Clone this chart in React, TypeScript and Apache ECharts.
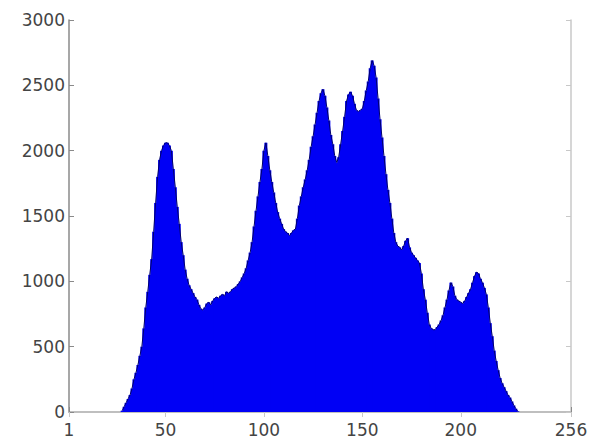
import React, { useEffect, useRef } from "react";
import * as echarts from "echarts";

// Histogram: intensity bins (1..256) and their counts
const firstBin = 28;
const counts: number[] = [
  10, 40, 70, 100, 130, 180, 250, 300, 360, 430, // 28-37
  500, 640, 800, 920, 1050, 1170, 1380, 1600, 1800, 1930, // 38-47
  2000, 2040, 2060, 2060, 2040, 2000, 1860, 1720, 1570, 1440, // 48-57
  1300, 1200, 1090, 1020, 970, 940, 910, 880, 860, 820, // 58-67
  790, 780, 800, 830, 840, 820, 850, 870, 880, 870, // 68-77
  890, 900, 890, 920, 910, 920, 940, 950, 960, 980, // 78-87
  1000, 1030, 1060, 1100, 1160, 1220, 1300, 1420, 1540, 1650, // 88-97
  1760, 1860, 2000, 2060, 1960, 1850, 1760, 1680, 1600, 1530, // 98-107
  1480, 1440, 1400, 1380, 1370, 1350, 1370, 1390, 1400, 1480, // 108-117
  1580, 1650, 1720, 1780, 1850, 1930, 2030, 2110, 2200, 2290, // 118-127
  2380, 2440, 2470, 2420, 2330, 2230, 2120, 2050, 1960, 1910, // 128-137
  1950, 2050, 2150, 2260, 2380, 2430, 2450, 2420, 2360, 2310, // 138-147
  2300, 2310, 2320, 2380, 2460, 2530, 2630, 2690, 2650, 2560, // 148-157
  2400, 2240, 2100, 1960, 1820, 1700, 1600, 1480, 1370, 1300, // 158-167
  1270, 1260, 1240, 1270, 1310, 1330, 1260, 1220, 1200, 1180, // 168-177
  1160, 1140, 1060, 940, 860, 760, 670, 640, 630, 630, // 178-187
  650, 670, 700, 740, 800, 860, 930, 990, 960, 890, // 188-197
  860, 850, 840, 830, 850, 880, 910, 940, 990, 1040, // 198-207
  1070, 1060, 1020, 990, 950, 900, 800, 680, 580, 470, // 208-217
  390, 320, 260, 220, 190, 160, 130, 110, 80, 50, // 218-227
  25, 5, // 228-229
];

const xTicks = [1, 50, 100, 150, 200, 256];
const yMin = 0;
const yMax = 3000;
const yStep = 500;

export default function App() {
  const ref = useRef<HTMLDivElement>(null);

  useEffect(() => {
    if (!ref.current) return;
    const chart = echarts.init(ref.current, null, { renderer: "svg" });
    const data = counts.map((v, k) => [firstBin + k, v]);
    const axisColor = "#8a8a8a";
    const labelStyle = {
      color: "#444",
      fontSize: 17,
      fontFamily: "DejaVu Sans, sans-serif",
    };
    chart.setOption({
      animation: false,
      backgroundColor: "#ffffff",
      grid: { left: 69, right: 21, top: 20, bottom: 30, containLabel: false },
      xAxis: [
        {
          type: "value",
          min: 1,
          max: 256,
          axisLine: { show: true, lineStyle: { color: axisColor, width: 1.5 } },
          axisTick: {
            show: true,
            inside: true,
            length: 5,
            customValues: xTicks,
            lineStyle: { color: axisColor },
          },
          axisLabel: { ...labelStyle, margin: 9, customValues: xTicks, showMinLabel: true, showMaxLabel: true },
          splitLine: { show: false },
        },
        {
          type: "value",
          position: "top",
          min: 1,
          max: 256,
          axisLine: { show: true, lineStyle: { color: "#c8c8c8", width: 1.5 } },
          axisTick: { show: true, inside: true, length: 5, customValues: xTicks, lineStyle: { color: "#c8c8c8" } },
          axisLabel: { show: false },
          splitLine: { show: false },
        },
      ],
      yAxis: [
        {
          type: "value",
          min: yMin,
          max: yMax,
          interval: yStep,
          axisLine: { show: true, lineStyle: { color: axisColor, width: 1.5 } },
          axisTick: { show: true, inside: true, length: 5, lineStyle: { color: axisColor } },
          axisLabel: { ...labelStyle, margin: 4, formatter: (v: number) => String(v) },
          splitLine: { show: false },
        },
        {
          type: "value",
          position: "right",
          min: yMin,
          max: yMax,
          interval: yStep,
          axisLine: { show: true, lineStyle: { color: "#c8c8c8", width: 1.5 } },
          axisTick: { show: true, inside: true, length: 5, lineStyle: { color: "#c8c8c8" } },
          axisLabel: { show: false },
          splitLine: { show: false },
        },
      ],
      series: [
        {
          type: "bar",
          data,
          barWidth: 3,
          itemStyle: { color: "#0000f5" },
          z: 2,
        },
        {
          type: "line",
          data,
          showSymbol: false,
          symbol: "none",
          lineStyle: { color: "#00006a", width: 1 },
          z: 3,
        },
      ],
    });
    return () => chart.dispose();
  }, []);

  return (
    <div
      ref={ref}
      style={{ position: "fixed", left: 0, top: 0, width: 592, height: 442, background: "#fff" }}
    />
  );
}
